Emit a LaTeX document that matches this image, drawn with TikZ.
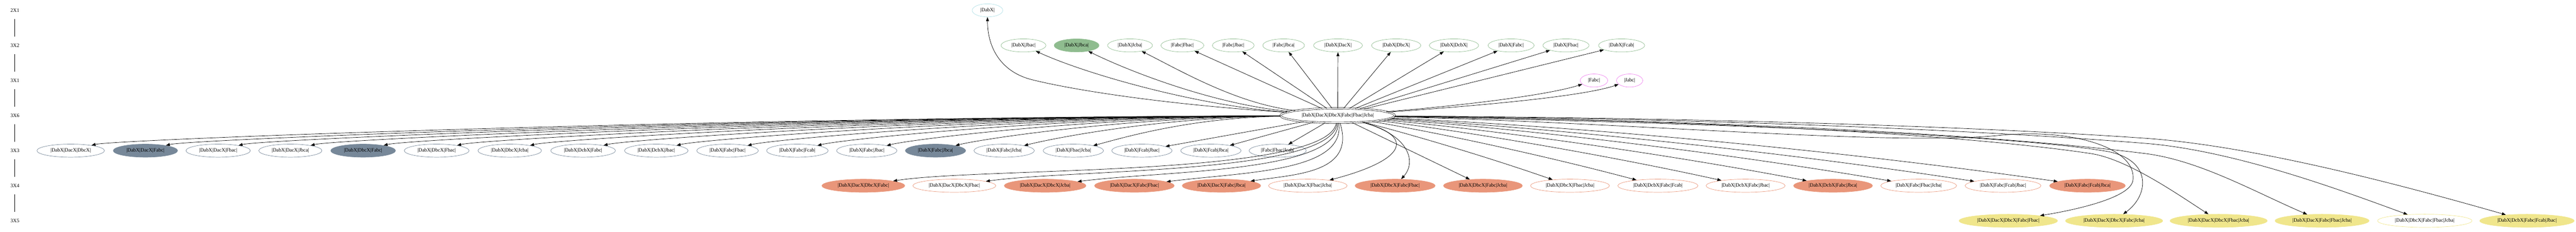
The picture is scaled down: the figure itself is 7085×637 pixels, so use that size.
\documentclass[tikz,border=0pt]{standalone}
\usepackage{fontspec}
\setmainfont{Liberation Serif}
\usetikzlibrary{shapes.geometric,arrows.meta}
\definecolor{cz}{HTML}{B0E0E6}
\definecolor{cg}{HTML}{8FBC8F}
\definecolor{cv}{HTML}{EE82EE}
\definecolor{cs}{HTML}{778899}
\definecolor{cr}{HTML}{E9967A}
\definecolor{ck}{HTML}{F0E68C}
\begin{document}
\begin{tikzpicture}[x=1pt,y=1pt,
  every node/.style={font=\fontsize{14}{16.8}\selectfont, text=black},
  nd/.style={ellipse, draw, line width=1pt, inner xsep=10.3pt, inner ysep=2pt, minimum height=36pt},
  lbl/.style={inner sep=0pt, minimum height=48pt, minimum width=30pt},
  arr/.style={line width=1pt, -{Triangle[length=11pt,width=8pt]}},
  rkline/.style={line width=1.3pt},
  cyn/.style={nd, draw=cz},
  grn/.style={nd, draw=cg}, grnf/.style={grn, fill=cg},
  vio/.style={nd, draw=cv},
  slt/.style={nd, draw=cs}, sltf/.style={slt, fill=cs},
  sal/.style={nd, draw=cr}, salf/.style={sal, fill=cr},
  kha/.style={nd, draw=ck}, khaf/.style={kha, fill=ck},
  center/.style={ellipse, draw, line width=0.9pt, double, double distance=3.1pt, inner xsep=11.8pt, inner ysep=2pt, minimum height=40pt}
]
\useasboundingbox (0,0) rectangle (7085,637);

% rank labels
\node[lbl] (L0) at (41,608.5) {2X1};
\node[lbl] (L1) at (41,512.1) {3X2};
\node[lbl] (L2) at (41,415.7) {3X1};
\node[lbl] (L3) at (41,319.3) {3X6};
\node[lbl] (L4) at (41,222.9) {3X3};
\node[lbl] (L5) at (41,126.5) {3X4};
\node[lbl] (L6) at (41,30.1) {3X5};
\draw[rkline] (L0) -- (L1);
\draw[rkline] (L1) -- (L2);
\draw[rkline] (L2) -- (L3);
\draw[rkline] (L3) -- (L4);
\draw[rkline] (L4) -- (L5);
\draw[rkline] (L5) -- (L6);

% row 0
\node[cyn] (n0) at (2716,608.5) {|DabX|};

% row 1
\node[grn]  (n1a) at (2815,512.1) {|DabX|Jbac|};
\node[grnf] (n1b) at (2961,512.1) {|DabX|Jbca|};
\node[grn]  (n1c) at (3108,512.1) {|DabX|Jcba|};
\node[grn]  (n1d) at (3252,512.1) {|Fabc|Fbac|};
\node[grn]  (n1e) at (3392,512.1) {|Fabc|Jbac|};
\node[grn]  (n1f) at (3530.5,512.1) {|Fabc|Jbca|};
\node[grn]  (n1g) at (3680,512.1) {|DabX|DacX|};
\node[grn]  (n1h) at (3840,512.1) {|DabX|DbcX|};
\node[grn]  (n1i) at (3999,512.1) {|DabX|DcbX|};
\node[grn]  (n1j) at (4156,512.1) {|DabX|Fabc|};
\node[grn]  (n1k) at (4307,512.1) {|DabX|Fbac|};
\node[grn]  (n1l) at (4460,512.1) {|DabX|Fcab|};

% row 2
\node[vio] (n2a) at (4384,415.7) {|Fabc|};
\node[vio] (n2b) at (4482,415.7) {|Jabc|};

% row 3
\node[center] (C) at (3679,319.3) {|DabX|DacX|DbcX|Fabc|Fbac|Jcba|};

% row 4
\node[slt]  (n4a) at (194.4,222.9) {|DabX|DacX|DbcX|};
\node[sltf] (n4b) at (400,222.9) {|DabX|DacX|Fabc|};
\node[slt]  (n4c) at (600,222.9) {|DabX|DacX|Fbac|};
\node[slt]  (n4d) at (798.6,222.9) {|DabX|DacX|Jbca|};
\node[sltf] (n4e) at (998.7,222.9) {|DabX|DbcX|Fabc|};
\node[slt]  (n4f) at (1201,222.9) {|DabX|DbcX|Fbac|};
\node[slt]  (n4g) at (1402,222.9) {|DabX|DbcX|Jcba|};
\node[slt]  (n4h) at (1603.7,222.9) {|DabX|DcbX|Fabc|};
\node[slt]  (n4i) at (1805,222.9) {|DabX|DcbX|Jbac|};
\node[slt]  (n4j) at (2001,222.9) {|DabX|Fabc|Fbac|};
\node[slt]  (n4k) at (2193,222.9) {|DabX|Fabc|Fcab|};
\node[slt]  (n4l) at (2384,222.9) {|DabX|Fabc|Jbac|};
\node[sltf] (n4m) at (2573,222.9) {|DabX|Fabc|Jbca|};
\node[slt]  (n4n) at (2761.8,222.9) {|DabX|Fabc|Jcba|};
\node[slt]  (n4o) at (2952,222.9) {|DabX|Fbac|Jcba|};
\node[slt]  (n4p) at (3140.6,222.9) {|DabX|Fcab|Jbac|};
\node[slt]  (n4q) at (3330.4,222.9) {|DabX|Fcab|Jbca|};
\node[slt]  (n4r) at (3514,222.9) {|Fabc|Fbac|Jcab|};

% row 5
\node[salf] (n5a) at (2374.5,126.5) {|DabX|DacX|DbcX|Fabc|};
\node[sal]  (n5b) at (2624.8,126.5) {|DabX|DacX|DbcX|Fbac|};
\node[salf] (n5c) at (2874.5,126.5) {|DabX|DacX|DbcX|Jcba|};
\node[salf] (n5d) at (3120,126.5) {|DabX|DacX|Fabc|Fbac|};
\node[salf] (n5e) at (3359.5,126.5) {|DabX|DacX|Fabc|Jbca|};
\node[sal]  (n5f) at (3597,126.5) {|DabX|DacX|Fbac|Jcba|};
\node[salf] (n5g) at (3837,126.5) {|DabX|DbcX|Fabc|Fbac|};
\node[salf] (n5h) at (4078.6,126.5) {|DabX|DbcX|Fabc|Jcba|};
\node[sal]  (n5i) at (4318,126.5) {|DabX|DbcX|Fbac|Jcba|};
\node[sal]  (n5j) at (4559.8,126.5) {|DabX|DcbX|Fabc|Fcab|};
\node[sal]  (n5k) at (4801,126.5) {|DabX|DcbX|Fabc|Jbac|};
\node[salf] (n5l) at (5041.5,126.5) {|DabX|DcbX|Fabc|Jbca|};
\node[sal]  (n5m) at (5277,126.5) {|DabX|Fabc|Fbac|Jcba|};
\node[sal]  (n5n) at (5509,126.5) {|DabX|Fabc|Fcab|Jbac|};
\node[salf] (n5o) at (5741.3,126.5) {|DabX|Fabc|Fcab|Jbca|};

% row 6
\node[khaf] (n6a) at (5523.5,30.1) {|DabX|DacX|DbcX|Fabc|Fbac|};
\node[khaf] (n6b) at (5814.5,30.1) {|DabX|DacX|DbcX|Fabc|Jcba|};
\node[khaf] (n6c) at (6102,30.1) {|DabX|DacX|DbcX|Fbac|Jcba|};
\node[khaf] (n6d) at (6386.5,30.1) {|DabX|DacX|Fabc|Fbac|Jcba|};
\node[kha]  (n6e) at (6669,30.1) {|DabX|DbcX|Fabc|Fbac|Jcba|};
\node[khaf] (n6f) at (6950,30.1) {|DabX|DcbX|Fabc|Fcab|Jbac|};

% edges: row 0
\draw[arr] (C) .. controls (3200,350) and (2950,390) .. (2838,418) .. controls (2758,438) and (2716,500) .. (n0);

% row 1
\draw[arr] (C) .. controls (3300,345) and (2990,432) .. (n1a);
\draw[arr] (C) .. controls (3350,348) and (3116,436) .. (n1b);
\draw[arr] (C) .. controls (3400,352) and (3243,445) .. (n1c);
\foreach \n in {n1d,n1e,n1f,n1g,n1h,n1i,n1j,n1k,n1l} \draw[arr] (C) -- (\n);

% row 2
\draw[arr] (C) .. controls (4000,345) and (4250,373.5) .. (n2a);
\draw[arr] (C) .. controls (4050,345) and (4352,371) .. (n2b);

% row 4
\foreach \n/\x in {n4a/194.4,n4b/400,n4c/600,n4d/798.6,n4e/998.7,n4f/1201,n4g/1402,n4h/1603.7,n4i/1805,n4j/2001,n4k/2193,n4l/2384,n4m/2573,n4n/2761.8,n4o/2952}
  \draw[arr] (C) .. controls ({(3522+\x)/2+30},314) and ({\x+118},253) .. (\n);
\foreach \n in {n4p,n4q,n4r} \draw[arr] (C) -- (\n);

% row 5
\draw[arr] (C) .. controls (3650,150) and (2700,178) .. (n5a);
\draw[arr] (C) .. controls (3668,158) and (2950,172) .. (n5b);
\draw[arr] (C) .. controls (3685,162) and (3200,168) .. (n5c);
\draw[arr] (C) .. controls (3702,164) and (3420,164) .. (n5d);
\draw[arr] (C) .. controls (3730,160) and (3560,158) .. (n5e);
\draw[arr] (C) .. controls (3900,260) and (3860,195) .. (n5f);
\draw[arr] (C) .. controls (3880,265) and (3895,190) .. (n5g);
\draw[arr] (C) -- (n5h);
\draw[arr] (C) .. controls (3892,265) and (4105,200.8) .. (n5i);
\draw[arr] (C) .. controls (3972.6,269) and (4266.2,204.8) .. (n5j);
\draw[arr] (C) .. controls (4053,273) and (4427,208.8) .. (n5k);
\draw[arr] (C) .. controls (4133.2,277) and (4587.3,212.8) .. (n5l);
\draw[arr] (C) .. controls (4211.7,281) and (4744.3,216.8) .. (n5m);
\draw[arr] (C) .. controls (4289,284) and (4899,219.8) .. (n5n);
\draw[arr] (C) .. controls (4366.4,288) and (5053.9,223.8) .. (n5o);

% row 6
\draw[arr] (C) .. controls (4500,300) and (5200,235) .. (5500,265) .. controls (5700,285) and (5880,230) .. (5866,140) .. controls (5858,95) and (5720,62) .. (n6a);
\draw[arr] (C) .. controls (4700,300) and (5550,265) .. (5800,220) .. controls (5920,195) and (5910,100) .. (n6b);
\draw[arr] (C) .. controls (4800,305) and (5450,260) .. (5750,215) .. controls (5850,200) and (5985.6,105.6) .. (n6c);
\draw[arr] (C) .. controls (4800,305) and (5500,265) .. (5900,215) .. controls (6050,196) and (6200,110) .. (n6d);
\draw[arr] (C) .. controls (4800,310) and (5500,275) .. (5900,243) .. controls (6150,223) and (6450,110) .. (n6e);
\draw[arr] (C) .. controls (4800,312) and (5500,285) .. (5900,257) .. controls (6200,236) and (6600,130) .. (n6f);
\end{tikzpicture}
\end{document}
